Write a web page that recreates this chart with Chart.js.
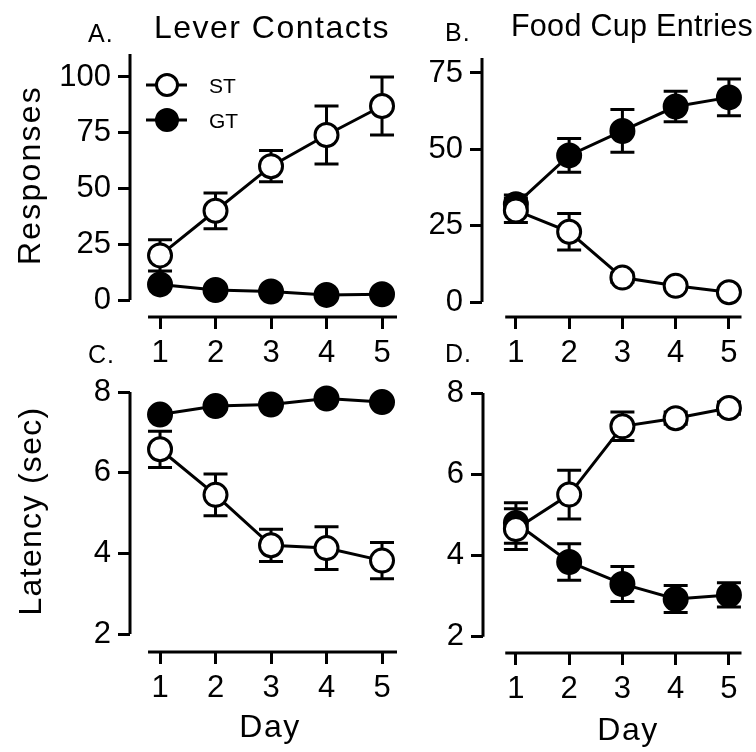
<!DOCTYPE html>
<html>
<head>
  <title>Lever Contacts / Food Cup Entries</title>
  <meta charset="UTF-8">
  <script src="https://cdn.jsdelivr.net/npm/chart.js"></script>
  <style>
    body { margin: 0; background: #fff; }
    #wrap { position: relative; width: 756px; height: 752px; }
    #wrap canvas { position: absolute; left: 0; top: 0; }
  </style>
</head>
<body>
  <div id="wrap">
    <canvas id="panelA" width="756" height="752"></canvas>
    <canvas id="panelB" width="756" height="752"></canvas>
    <canvas id="panelC" width="756" height="752"></canvas>
    <canvas id="panelD" width="756" height="752"></canvas>
  </div>

  <script>
    // data (mean and SEM per day)
    const days = [1, 2, 3, 4, 5];

    const leverST = [20, 40, 60, 74, 87];
    const leverSTErr = [7, 8, 7, 13, 13];
    const leverGT = [7, 4.5, 3.8, 2.3, 2.6];
    const leverGTErr = [1.5, 1, 1, 0.8, 0.8];

    const cupST = [30, 23, 8, 5.3, 3.2];
    const cupSTErr = [4, 6, 1.5, 1, 1];
    const cupGT = [32, 48, 56, 64, 67];
    const cupGTErr = [3, 5.5, 7, 5, 6];

    const leverLatST = [6.58, 5.45, 4.2, 4.13, 3.82];
    const leverLatSTErr = [0.45, 0.52, 0.4, 0.53, 0.45];
    const leverLatGT = [7.44, 7.65, 7.69, 7.84, 7.75];
    const leverLatGTErr = [0.1, 0.08, 0.08, 0.06, 0.06];

    const cupLatST = [4.65, 5.5, 7.18, 7.38, 7.63];
    const cupLatSTErr = [0.5, 0.6, 0.35, 0.15, 0.15];
    const cupLatGT = [4.8, 3.84, 3.3, 2.93, 3.03];
    const cupLatGTErr = [0.5, 0.45, 0.43, 0.33, 0.3];

    const leverTicks = [0, 25, 50, 75, 100];
    const cupTicks = [0, 25, 50, 75];
    const latencyTicks = [2, 4, 6, 8];

    const FONT = '"Liberation Sans", Arial, sans-serif';

    function series(label, vals, errs, fill) {
      return {
        label: label,
        errors: errs,
        data: days.map((d, i) => ({ x: d, y: vals[i] })),
        borderColor: '#000',
        borderWidth: 3,
        pointRadius: 11.5,
        pointBorderWidth: 3,
        pointBorderColor: '#000',
        pointBackgroundColor: fill,
        tension: 0,
        fill: false,
        clip: false
      };
    }

    // offset axis lines (prism style) + error bars, under the markers
    const axesAndErrors = {
      id: 'axesAndErrors',
      beforeDatasetsDraw(chart, args, opts) {
        const { ctx, chartArea: a, scales: { x, y } } = chart;
        ctx.save();
        ctx.strokeStyle = '#000';
        ctx.lineWidth = 3;
        ctx.beginPath();
        ctx.moveTo(a.left, y.getPixelForValue(opts.yLineFrom));
        ctx.lineTo(a.left, a.top);
        ctx.moveTo(x.getPixelForValue(opts.xLineFrom), a.bottom);
        ctx.lineTo(a.right, a.bottom);
        ctx.stroke();

        chart.data.datasets.forEach(ds => {
          ds.data.forEach((p, i) => {
            const e = ds.errors[i];
            const px = x.getPixelForValue(p.x);
            const top = y.getPixelForValue(p.y + e);
            const bot = y.getPixelForValue(p.y - e);
            ctx.beginPath();
            ctx.moveTo(px, top); ctx.lineTo(px, bot);
            ctx.moveTo(px - 12, top); ctx.lineTo(px + 12, top);
            ctx.moveTo(px - 12, bot); ctx.lineTo(px + 12, bot);
            ctx.stroke();
          });
        });
        ctx.restore();
      }
    };

    // panel letter, titles, axis titles and the legend
    const panelText = {
      id: 'panelText',
      afterDraw(chart, args, o) {
        const ctx = chart.ctx;
        ctx.save();
        ctx.fillStyle = '#000';
        ctx.textBaseline = 'alphabetic';

        ctx.font = '25px ' + FONT;
        ctx.letterSpacing = '1px';
        ctx.textAlign = 'left';
        ctx.fillText(o.letter, o.letterX, o.letterY);

        ctx.textAlign = 'center';
        if (o.title) {
          ctx.font = o.titleSize + 'px ' + FONT;
          ctx.letterSpacing = o.titleSpacing + 'px';
          ctx.fillText(o.title, o.titleX, o.titleY);
        }
        ctx.font = '32px ' + FONT;
        if (o.xTitle) {
          ctx.letterSpacing = '1.5px';
          ctx.fillText(o.xTitle, o.xTitleX, o.xTitleY);
        }
        if (o.yTitle) {
          ctx.letterSpacing = o.yTitleSpacing + 'px';
          ctx.translate(o.yTitleX, o.yTitleY);
          ctx.rotate(-Math.PI / 2);
          ctx.fillText(o.yTitle, 0, 0);
        }
        ctx.restore();

        if (o.legend) {
          ctx.save();
          ctx.font = '21px ' + FONT;
          ctx.letterSpacing = '0px';
          ctx.textAlign = 'left';
          chart.data.datasets.forEach((ds, i) => {
            const ly = 85 + i * 35;
            ctx.strokeStyle = '#000';
            ctx.lineWidth = 3;
            ctx.beginPath();
            ctx.moveTo(146, ly); ctx.lineTo(187, ly);
            ctx.stroke();
            ctx.beginPath();
            ctx.arc(167, ly, 10.5, 0, Math.PI * 2);
            ctx.fillStyle = ds.pointBackgroundColor;
            ctx.fill();
            ctx.stroke();
            ctx.fillStyle = '#000';
            ctx.fillText(ds.label, 209, ly + 8);
          });
          ctx.restore();
        }
      }
    };

    function panel(id, c) {
      const [L, T, R, B] = c.area;
      const tickFont = { family: FONT, size: 31 };
      return new Chart(document.getElementById(id), {
        type: 'line',
        data: {
          datasets: [
            series('ST', c.st, c.stErr, '#fff'),
            series('GT', c.gt, c.gtErr, '#000')
          ]
        },
        options: {
          responsive: false,
          animation: false,
          events: [],
          layout: { padding: { left: L - 120, top: T, right: 756 - R, bottom: 752 - B - 50 } },
          plugins: {
            legend: { display: false },
            tooltip: { enabled: false },
            axesAndErrors: { xLineFrom: c.xLineFrom, yLineFrom: c.yTicks[0] },
            panelText: c.text
          },
          scales: {
            x: {
              type: 'linear',
              min: c.xMin,
              max: c.xMax,
              afterFit: s => { s.height = 50; },
              afterBuildTicks: s => { s.ticks = days.map(v => ({ value: v })); },
              border: { display: false },
              grid: { drawOnChartArea: false, drawTicks: true, tickLength: 12, tickWidth: 3, tickColor: '#000' },
              ticks: { font: tickFont, color: '#000', padding: 6, maxRotation: 0 }
            },
            y: {
              type: 'linear',
              min: c.yMin,
              max: c.yMax,
              afterFit: s => { s.width = 120; },
              afterBuildTicks: s => { s.ticks = c.yTicks.map(v => ({ value: v })); },
              border: { display: false },
              grid: { drawOnChartArea: false, drawTicks: true, tickLength: 12, tickWidth: 3, tickColor: '#000' },
              ticks: { font: tickFont, color: '#000', padding: 7 }
            }
          }
        },
        plugins: [axesAndErrors, panelText]
      });
    }

    panel('panelA', {
      st: leverST, stErr: leverSTErr, gt: leverGT, gtErr: leverGTErr,
      area: [130, 54, 397, 317], xMin: 0.459, xMax: 5.27, xLineFrom: 0.784,
      yMin: -7.62, yMax: 110.3, yTicks: leverTicks,
      text: { letter: 'A.', letterX: 88, letterY: 42, title: 'Lever Contacts', titleX: 272, titleY: 38, titleSize: 32, titleSpacing: 1.5,
              yTitle: 'Responses', yTitleX: 40, yTitleY: 175, yTitleSpacing: 2.2, legend: true }
    });

    panel('panelB', {
      st: cupST, stErr: cupSTErr, gt: cupGT, gtErr: cupGTErr,
      area: [482, 58, 750, 317], xMin: 0.364, xMax: 5.236, xLineFrom: 0.8,
      yMin: -4.91, yMax: 79.9, yTicks: cupTicks,
      text: { letter: 'B.', letterX: 445, letterY: 41, title: 'Food Cup Entries', titleX: 632, titleY: 36, titleSize: 30.5, titleSpacing: 0.3 }
    });

    panel('panelC', {
      st: leverLatST, stErr: leverLatSTErr, gt: leverLatGT, gtErr: leverLatGTErr,
      area: [130, 392, 397, 652], xMin: 0.459, xMax: 5.27, xLineFrom: 0.784,
      yMin: 1.554, yMax: 8, yTicks: latencyTicks,
      text: { letter: 'C.', letterX: 88, letterY: 363, xTitle: 'Day', xTitleX: 270, xTitleY: 737,
              yTitle: 'Latency (sec)', yTitleX: 41, yTitleY: 511, yTitleSpacing: 1.3 }
    });

    panel('panelD', {
      st: cupLatST, stErr: cupLatSTErr, gt: cupLatGT, gtErr: cupLatGTErr,
      area: [483, 393, 750, 653], xMin: 0.382, xMax: 5.236, xLineFrom: 0.8,
      yMin: 1.6, yMax: 8, yTicks: latencyTicks,
      text: { letter: 'D.', letterX: 445, letterY: 362, xTitle: 'Day', xTitleX: 628, xTitleY: 740 }
    });
  </script>
</body>
</html>
